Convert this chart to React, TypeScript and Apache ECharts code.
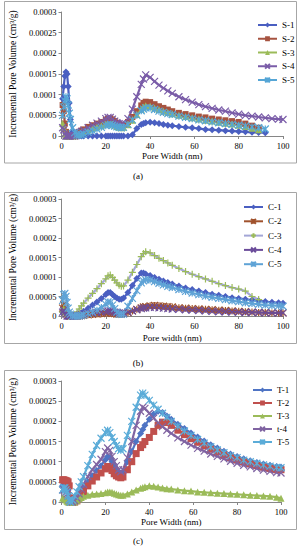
import React, { useEffect, useRef } from "react";
import * as echarts from "echarts";

// Pore widths (nm) shared by every series
const X = [
  0.5, 1, 1.5, 2, 2.5, 3, 3.5, 4,
  5, 6, 7, 8, 9, 10,
  12, 14, 16, 18, 20,
  21, 22, 23, 24, 25, 26, 27, 28,
  30, 32, 34, 36, 37, 38,
  40, 42, 44, 46, 48, 50,
  53, 56, 59, 62, 65, 68, 71, 74, 77, 80,
  83, 86, 89, 92, 95, 98, 100,
];

// Values in units of 1e-5 cm3/g
const S1 = [
  9, 12, 14.5, 15.5, 15, 12, 8, 4,
  1, 0.3, 0.1, 0, 0, 0,
  0, 0, 0, 0, 0,
  0, 0, 0, 0, 0, 0, 0, 0,
  0, 0.3, 1.8, 2.8, 3.0, 3.2,
  3.3, 3.2, 3.0, 2.8, 2.6, 2.5,
  2.3, 2.1, 2.0, 1.8, 1.6, 1.5, 1.4, 1.3, 1.2, 1.1,
  1.0, 0.9, 0.85, 0.8, null, null, null,
];
const S2 = [
  7.5, 6, 3, 1, 0.2, 0, 0, 0,
  0, 0, 0.5, 1.0, 1.3, 1.6,
  2.2, 2.6, 3.0, 3.4, 3.9,
  4.2, 4.3, 4.0, 3.6, 3.2, 2.9, 2.7, 2.7,
  3.4, 4.6, 6.0, 7.4, 8.0, 8.3,
  8.2, 7.7, 7.2, 6.8, 6.4, 6.0,
  5.6, 5.3, 5.0, 4.7, 4.5, 4.2, 4.0, 3.8, 3.6, 3.4,
  3.0, 2.5, 2.0, null, null, null, null,
];
const S3 = [
  3, 2, 0.5, 0, 0, 0, 0, 0,
  0, 0, 0.3, 0.6, 0.9, 1.1,
  1.5, 1.9, 2.2, 2.5, 2.9,
  3.1, 3.1, 2.9, 2.6, 2.3, 2.1, 2.0, 2.1,
  2.7, 3.8, 5.2, 6.5, 7.0, 7.3,
  7.2, 6.8, 6.4, 6.0, 5.7, 5.4,
  5.0, 4.7, 4.4, 4.1, 3.8, 3.6, 3.3, 3.1, 2.9, 2.6,
  2.3, 1.9, 1.5, null, null, null, null,
];
const S4 = [
  2, 1.5, 0.5, 0, 0, 0, 0, 0,
  0, 0, 0.3, 0.8, 1.1, 1.4,
  2.0, 2.6, 3.1, 3.6, 4.2,
  4.5, 4.5, 4.1, 3.6, 3.2, 3.0, 2.9, 3.0,
  4.2, 6.5, 9.5, 12.5, 13.8, 14.8,
  14.2, 13.2, 12.3, 11.6, 10.9, 10.3,
  9.5, 8.8, 8.2, 7.6, 7.1, 6.7, 6.3, 6.0, 5.6, 5.3,
  5.0, 4.8, 4.6, 4.4, 4.2, 4.1, 4.0,
];
const S5 = [
  5, 7, 8.5, 9.5, 9, 7.5, 5.5, 4,
  2, 0.8, 0.3, 0.2, 0.3, 0.5,
  0.9, 1.3, 1.7, 2.1, 2.5,
  2.7, 2.8, 2.6, 2.4, 2.2, 2.1, 2.0, 2.1,
  2.8, 3.9, 5.0, 6.1, 6.5, 6.8,
  6.8, 6.4, 6.0, 5.7, 5.4, 5.2,
  4.8, 4.5, 4.2, 3.9, 3.7, 3.4, 3.2, 3.0, 2.8, 2.6,
  2.4, 2.2, 2.0, 1.7, null, null, null,
];

const C1 = [
  1, 2, 1.5, 1, 0.5, 0.2, 0, 0,
  0, 0, 0, 0.3, 0.8, 1.2,
  2.0, 2.8, 3.6, 4.5, 5.5,
  6.0, 6.0, 5.5, 5.0, 4.6, 4.3, 4.3, 4.6,
  6.0, 7.8, 9.6, 11.0, 11.0, 10.8,
  10.4, 9.9, 9.4, 9.0, 8.6, 8.2,
  7.7, 7.2, 6.8, 6.4, 6.0, 5.6, 5.3, 5.0, 4.7, 4.5,
  4.3, 4.1, 3.9, 3.7, 3.5, 3.4, 3.3,
];
const C2 = [
  2, 3, 2, 1, 0.5, 0.2, 0, 0,
  0, 0, 0, 0, 0.1, 0.2,
  0.3, 0.4, 0.5, 0.6, 0.7,
  0.8, 0.8, 0.7, 0.6, 0.5, 0.5, 0.5, 0.6,
  0.9, 1.3, 1.7, 2.1, 2.3, 2.4,
  2.6, 2.7, 2.6, 2.5, 2.4, 2.3,
  2.1, 2.0, 1.9, 1.8, 1.7, 1.6, 1.5, 1.4, 1.3, 1.2,
  1.1, 1.0, 0.9, 0.9, 0.8, 0.8, 0.8,
];
const C3 = [
  1, 2, 1, 0.5, 0, 0, 0, 0,
  0, 0.3, 1.0, 1.8, 2.6, 3.3,
  4.6, 5.8, 7.0, 8.3, 9.5,
  10.3, 10.5, 9.9, 9.2, 8.5, 7.9, 7.6, 7.7,
  9.2, 11.2, 13.2, 15.2, 16.0, 16.5,
  16.2, 15.5, 14.8, 14.2, 13.6, 13.0,
  12.2, 11.4, 10.7, 10.1, 9.5, 8.9, 8.3, 7.8, 7.3, 6.9,
  6.4, 5.0, 4.2, null, null, null, null,
];
const C4 = [
  1, 1.5, 1, 0.5, 0, 0, 0, 0,
  0, 0, 0, 0.2, 0.3, 0.5,
  0.7, 0.8, 0.9, 1.0, 1.2,
  1.3, 1.3, 1.2, 1.0, 0.9, 0.8, 0.8, 0.8,
  1.0, 1.3, 1.6, 1.9, 2.0, 2.1,
  2.2, 2.2, 2.1, 2.0, 1.9, 1.8,
  1.7, 1.6, 1.5, 1.4, 1.3, 1.2, 1.1, 1.1, 1.0, 1.0,
  0.9, 0.9, 0.9, 0.8, 0.8, 0.8, 0.8,
];
const C5 = [
  4, 5.5, 5.8, 5, 3.5, 2, 1, 0.5,
  0, 0, 0, 0, 0.1, 0.3,
  0.6, 1.0, 1.5, 2.2, 3.0,
  3.6, 3.5, 2.8, 1.9, 1.0, 0.5, 0.4, 0.5,
  2.5, 4.5, 6.5, 8.5, 9.0, 9.3,
  9.2, 8.8, 8.4, 8.0, 7.6, 7.3,
  6.8, 6.3, 5.9, 5.5, 5.1, 4.8, 4.5, 4.2, 3.9, 3.7,
  3.4, 3.2, 3.0, 2.8, 2.7, 2.6, 2.5,
];

const T1 = [
  4, 4.5, 4.5, 4, 3.5, 3, 1.5, 0.3,
  0, 0, 0.5, 1.5, 2.5, 3.5,
  5.0, 6.5, 7.8, 9.0, 10.5,
  11.3, 11.0, 10.0, 9.0, 8.0, 7.5, 7.2, 7.5,
  10.0, 12.5, 15.0, 17.0, 18.0, 19.0,
  20.5, 21.8, 22.5, 22.2, 21.3, 20.5,
  19.3, 18.2, 17.1, 16.1, 15.1, 14.2, 13.4, 12.6, 11.9, 11.3,
  10.7, 10.2, 9.8, 9.4, 9.1, 8.8, 8.7,
];
const T2 = [
  5.5, 5.5, 5.4, 5.3, 5.2, 5.0, 4.0, 1.0,
  0, 0, 0.3, 1.0, 1.8, 2.6,
  4.0, 5.2, 6.2, 7.2, 8.2,
  8.8, 8.6, 7.8, 7.0, 6.5, 6.2, 6.0, 6.2,
  8.0, 10.0, 12.0, 13.5, 14.2, 15.0,
  16.0, 17.5, 19.0, 19.8, 19.7, 19.0,
  17.8, 16.7, 15.7, 14.8, 13.9, 13.1, 12.4, 11.7, 11.1, 10.5,
  10.0, 9.5, 9.1, 8.7, 8.4, 8.1, 8.0,
];
const T3 = [
  1, 1, 0.8, 0.5, 0.2, 0, 0, 0,
  0, 0, 0.3, 0.8, 1.1, 1.4,
  1.7, 1.9, 2.0, 2.1, 2.3,
  2.5, 2.5, 2.4, 2.2, 2.0, 1.8, 1.7, 1.7,
  2.0, 2.5, 3.0, 3.4, 3.6, 3.8,
  4.0, 3.9, 3.7, 3.5, 3.3, 3.2,
  3.0, 2.8, 2.7, 2.5, 2.4, 2.3, 2.2, 2.1, 2.0, 1.9,
  1.8, 1.7, 1.6, 1.5, 1.4, 1.2, 0.9,
];
const T4 = [
  3, 3, 3, 2.5, 2, 1.5, 0.5, 0,
  0, 0.3, 1.0, 2.0, 3.2, 4.4,
  6.3, 8.0, 9.3, 10.6, 12.5,
  13.4, 12.8, 11.3, 10.0, 9.0, 8.0, 7.5, 8.0,
  11.0, 15.0, 19.0, 22.5, 23.5, 23.2,
  22.0, 20.8, 19.6, 18.7, 17.8, 17.0,
  15.9, 15.0, 14.1, 13.3, 12.6, 11.9, 11.3, 10.7, 10.1, 9.6,
  9.1, 8.7, 8.3, 7.9, 7.6, 7.3, 7.2,
];
const T5 = [
  3, 3.5, 3.5, 3, 2.5, 1.5, 0.5, 0,
  0.5, 1.5, 2.5, 3.8, 5.0, 6.3,
  9.0, 11.8, 14.0, 15.8, 17.2,
  17.8, 17.2, 16.0, 15.0, 14.0, 13.2, 12.8, 13.2,
  16.5, 20.0, 23.5, 26.5, 27.0, 26.5,
  25.2, 24.0, 23.0, 22.0, 21.0, 20.0,
  18.8, 17.6, 16.5, 15.5, 14.6, 13.7, 12.9, 12.2, 11.5, 11.0,
  10.4, 10.0, 9.6, 9.2, 8.9, 8.6, 8.5,
];

const Y_TICKS = ["0", "0.00005", "0.0001", "0.00015", "0.0002", "0.00025", "0.0003"];
const X_TICKS = ["0", "20", "40", "60", "80", "100"];

const NAMES_A = ["S-1", "S-2", "S-3", "S-4", "S-5"];
const NAMES_B = ["C-1", "C-2", "C-3", "C-4", "C-5"];
const NAMES_C = ["T-1", "T-2", "T-3", "t-4", "T-5"];

const FONT = '"Liberation Serif", "Times New Roman", serif';

const SYM: Record<string, string> = {
  diamond: "diamond",
  square: "rect",
  triangle: "triangle",
  cross: "path://M0,0L10,10M10,0L0,10",
  star: "path://M0,0L10,10M10,0L0,10M5,0L5,10",
  plus: "path://M5,0L5,10M0,5L10,5",
};

function pairs(vals: (number | null)[]) {
  const out: [number, number][] = [];
  vals.forEach((v, i) => {
    if (v !== null && v !== undefined) out.push([X[i], v]);
  });
  return out;
}

function mk(
  name: string,
  vals: (number | null)[],
  color: string,
  sym: string,
  grid: number,
  markColor?: string,
  size = 6
) {
  const stroke = sym === "cross" || sym === "star" || sym === "plus";
  const mc = markColor || color;
  return {
    type: "line",
    name,
    xAxisIndex: grid,
    yAxisIndex: grid,
    data: pairs(vals),
    symbol: SYM[sym],
    symbolSize: stroke ? size + 1 : size,
    showSymbol: true,
    color: mc,
    lineStyle: { color, width: 2.2 },
    itemStyle: stroke
      ? { color: mc, borderColor: mc, borderWidth: 1.2 }
      : { color: mc, borderWidth: 0 },
    emphasis: { disabled: true },
    z: 2,
  };
}

export default function App() {
  const ref = useRef<HTMLDivElement>(null);
  useEffect(() => {
    if (!ref.current) return;
    const chart = echarts.init(ref.current, undefined, { renderer: "svg" });

    const grids = [
      { left: 53.5, top: 12, width: 229.5, height: 124 },
      { left: 53.5, top: 199, width: 229.5, height: 117 },
      { left: 54, top: 381, width: 227, height: 121 },
    ];
    const xNames = ["Pore Width (nm)", "Pore width (nm)", "Pore Width (nm)"];
    const xGaps = [15, 17.5, 15.5];

    const axisLineStyle = { color: "#868686", width: 1 };

    const xAxis = grids.map((_, i) => ({
      gridIndex: i,
      type: "value",
      min: 0,
      max: 100,
      interval: 20,
      name: xNames[i],
      nameLocation: "middle",
      nameGap: xGaps[i],
      nameTextStyle: { fontFamily: FONT, fontSize: 9, color: "#000" },
      axisLine: { show: true, lineStyle: axisLineStyle },
      axisTick: { show: true, length: 3, lineStyle: axisLineStyle },
      axisLabel: {
        fontFamily: FONT,
        fontSize: 8.5,
        color: "#000",
        margin: 5,
        formatter: (v: number) => X_TICKS[Math.round(v / 20)],
      },
      splitLine: { show: false },
    }));

    const yAxis = grids.map((_, i) => ({
      gridIndex: i,
      type: "value",
      min: 0,
      max: 30,
      interval: 5,
      name: "Incremental Pore Volume (cm³/g)",
      nameLocation: "middle",
      nameGap: 35,
      nameTextStyle: { fontFamily: FONT, fontSize: 9.5, color: "#000" },
      axisLine: { show: true, lineStyle: axisLineStyle },
      axisTick: { show: true, length: 3, lineStyle: axisLineStyle },
      axisLabel: {
        fontFamily: FONT,
        fontSize: 8.5,
        color: "#000",
        margin: 5,
        formatter: (v: number) => Y_TICKS[Math.round(v / 5)],
      },
      splitLine: { show: false },
    }));

    const series = [
      mk("S-1", S1, "#4A5FC1", "diamond", 0, undefined, 7),
      mk("S-2", S2, "#A65340", "square", 0, undefined, 6),
      mk("S-3", S3, "#9BBB59", "triangle", 0, undefined, 7),
      mk("S-4", S4, "#7A5CA8", "cross", 0, undefined, 6),
      mk("S-5", S5, "#56A6D6", "star", 0, undefined, 6),

      mk("C-1", C1, "#4A5FC1", "diamond", 1, undefined, 7),
      mk("C-2", C2, "#A0522D", "star", 1, undefined, 6),
      mk("C-3", C3, "#A3A6D6", "plus", 1, "#9BBB59", 6),
      mk("C-4", C4, "#6B4C9A", "cross", 1, undefined, 6),
      mk("C-5", C5, "#5FA3D6", "star", 1, undefined, 6),

      mk("T-1", T1, "#4F74C4", "diamond", 2, undefined, 7),
      mk("T-2", T2, "#C0504D", "square", 2, undefined, 7),
      mk("T-3", T3, "#9BBB59", "triangle", 2, undefined, 7),
      mk("t-4", T4, "#8064A2", "cross", 2, undefined, 6),
      mk("T-5", T5, "#5BACD8", "star", 2, undefined, 6),
    ];

    const legendBase = {
      orient: "vertical",
      padding: 0,
      itemWidth: 19,
      itemHeight: 6,
      itemGap: 4,
      textStyle: { fontFamily: FONT, fontSize: 9, color: "#000", lineHeight: 10 },
      selectedMode: false,
    };

    const legends = [
      { ...legendBase, data: NAMES_A, left: 257, top: 20, itemGap: 3.75 },
      { ...legendBase, data: NAMES_B, left: 243, top: 202, itemGap: 4.3 },
      { ...legendBase, data: NAMES_C, left: 252, top: 385, itemGap: 3 },
    ];

    const border = (y: number, h: number) => ({
      type: "rect",
      shape: { x: 4.5, y, width: 292, height: h },
      style: { fill: "none", stroke: "#A6A6A6", lineWidth: 1 },
      silent: true,
    });
    const caption = (t: string, y: number) => ({
      type: "text",
      x: 138,
      y,
      style: {
        text: t,
        fontFamily: FONT,
        fontSize: 9,
        fill: "#000",
        textAlign: "center",
        textVerticalAlign: "middle",
      },
      silent: true,
    });

    chart.setOption({
      animation: false,
      backgroundColor: "#fff",
      grid: grids,
      xAxis,
      yAxis,
      legend: legends,
      series,
      graphic: [
        border(1.5, 161.5),
        border(192.5, 151),
        border(370.5, 159),
        caption("(a)", 176),
        caption("(b)", 363),
        caption("(c)", 541),
      ],
    });
    return () => chart.dispose();
  }, []);

  return (
    <div
      ref={ref}
      style={{ position: "fixed", left: 0, top: 0, width: 301, height: 550, background: "#fff" }}
    />
  );
}
